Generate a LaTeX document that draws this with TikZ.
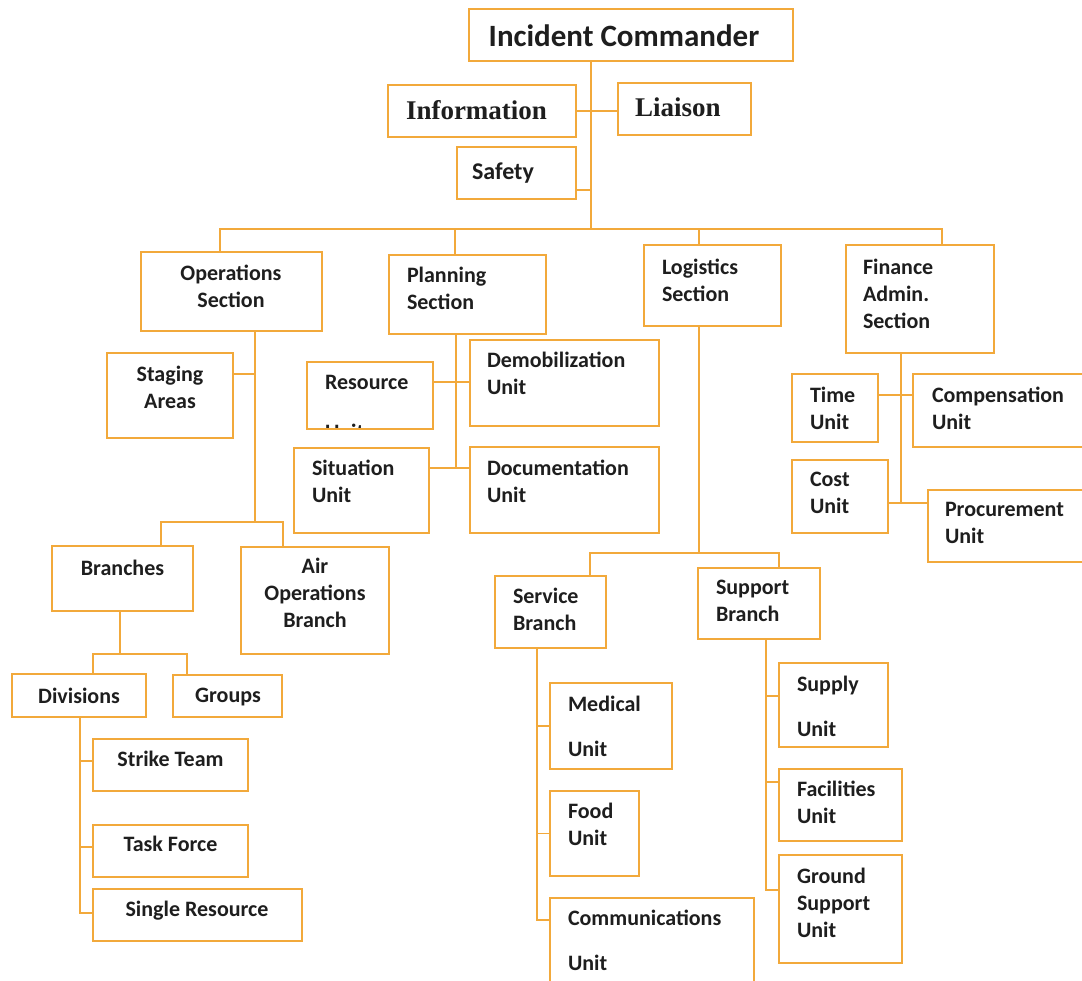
\documentclass[tikz,border=0pt]{standalone}
\usepackage{fontspec}
\setmainfont{Carlito}
\newfontfamily\timesfont{Liberation Serif}
\usetikzlibrary{calc}
\definecolor{orgline}{RGB}{242,169,59}
\definecolor{txtcol}{RGB}{30,30,30}
\tikzset{
  ubox/.style={draw=orgline, line width=2.4pt, fill=white, inner sep=0pt, outer sep=0pt},
  conn/.style={draw=orgline, line width=2.6pt},
  stub/.style={draw=orgline, line width=1.6pt},
  lbl/.style={inner sep=0pt, outer sep=0pt, text=txtcol, font=\bfseries\fontsize{22}{27}\selectfont},
  lft/.style={lbl, align=left, anchor=north west},
  ctr/.style={lbl, align=center, anchor=north},
}
% box: name, left, top, right, bottom (pixel-style coordinates, y downward)
\newcommand\ubx[5]{\node[ubox, minimum width={#4-#2}, minimum height={#5-#3}] (#1) at ({(#2+#4)/2},{(#3+#5)/2}) {};}
\begin{document}
\begin{tikzpicture}[x=1pt, y=-1pt]
\useasboundingbox (0,0) rectangle (1082,981);
\fill[white] (0,0) rectangle (1082,981);
\clip (0,0) rectangle (1082,981);

% ---- boxes ----
\ubx{ic}{469}{9}{793}{61}
\ubx{info}{388}{85}{576}{137}
\ubx{liaison}{618}{83}{751}{135}
\ubx{safety}{457}{147}{576}{199}
\ubx{ops}{141}{252}{322}{331}
\ubx{plan}{389}{255}{546}{334}
\ubx{log}{644}{245}{781}{326}
\ubx{fin}{846}{245}{994}{353}
\ubx{stag}{107}{353}{233}{438}
\ubx{res}{307}{362}{433}{429}
\ubx{demob}{470}{340}{659}{426}
\ubx{sit}{294}{448}{429}{533}
\ubx{doc}{470}{447}{659}{533}
\ubx{time}{792}{374}{878}{442}
\ubx{comp}{913}{374}{1100}{447}
\ubx{cost}{792}{460}{888}{533}
\ubx{proc}{928}{490}{1100}{562}
\ubx{br}{52}{546}{193}{611}
\ubx{air}{241}{547}{389}{654}
\ubx{div}{12}{674}{146}{717}
\ubx{grp}{173}{675}{282}{717}
\ubx{strike}{93}{739}{248}{791}
\ubx{task}{93}{825}{248}{877}
\ubx{single}{93}{889}{302}{941}
\ubx{svc}{495}{576}{606}{648}
\ubx{sup}{698}{568}{820}{639}
\ubx{med}{550}{683}{672}{769}
\ubx{food}{550}{791}{639}{876}
\ubx{comm}{550}{898}{754}{1000}
\ubx{supply}{779}{663}{888}{747}
\ubx{fac}{779}{769}{902}{841}
\ubx{ground}{779}{855}{902}{963}

% ---- command staff ----
\coordinate (trunk) at (591,229);
\draw[conn] (ic.south -| trunk) -- (trunk);
\draw[conn] (info.east) -- (info.east -| liaison.west);
\coordinate (safJ) at (591,190);
\draw[conn] (safJ -| safety.east) -- (safJ);

% ---- sections ----
\coordinate (barL) at (220,229);
\coordinate (barR) at (942,229);
\draw[conn] (barL |- ops.north) -- (barL) -- (barR) -- (barR |- fin.north);
\coordinate (plD) at (455,229);
\draw[conn] (plD) -- (plD |- plan.north);
\coordinate (lgD) at (699,229);
\draw[conn] (lgD) -- (lgD |- log.north);

% ---- operations ----
\coordinate (opJ) at (255,522);
\draw[conn] (opJ |- ops.south) -- (opJ);
\coordinate (stJ) at (255,374);
\draw[conn] (stJ -| stag.east) -- (stJ);
\coordinate (brL) at (161,522);
\coordinate (brR) at (283,522);
\draw[conn] (brL |- br.north) -- (brL) -- (brR) -- (brR |- air.north);
\coordinate (dvJ) at (120,654);
\draw[conn] (dvJ |- br.south) -- (dvJ);
\coordinate (dvL) at (93,654);
\coordinate (dvR) at (187,654);
\draw[conn] (dvL |- div.north) -- (dvL) -- (dvR) -- (dvR |- grp.north);
\coordinate (dsB) at (80,913);
\draw[conn] (dsB |- div.south) -- (dsB) -- (dsB -| single.west);
\coordinate (dsS) at (80,761);
\draw[stub] (dsS) -- (dsS -| strike.west);
\coordinate (dsT) at (80,847);
\draw[stub] (dsT) -- (dsT -| task.west);

% ---- planning ----
\coordinate (plJ1) at (456,382);
\coordinate (plJ2) at (456,468);
\draw[conn] (plJ2 |- plan.south) -- (plJ2);
\draw[conn] (plJ1 -| res.east) -- (plJ1 -| demob.west);
\draw[conn] (plJ2 -| sit.east) -- (plJ2 -| doc.west);

% ---- finance ----
\coordinate (fnJ1) at (901,395);
\coordinate (fnJ2) at (901,503);
\draw[conn] (fnJ2 |- fin.south) -- (fnJ2);
\draw[conn] (fnJ1 -| time.east) -- (fnJ1 -| comp.west);
\draw[conn] (fnJ2 -| cost.east) -- (fnJ2 -| proc.west);

% ---- logistics ----
\coordinate (lgJ) at (699,553);
\draw[conn] (lgJ |- log.south) -- (lgJ);
\coordinate (lgL) at (590,553);
\coordinate (lgR) at (779,553);
\draw[conn] (lgL |- svc.north) -- (lgL) -- (lgR) -- (lgR |- sup.north);
\coordinate (svB) at (537,920);
\draw[conn] (svB |- svc.south) -- (svB) -- (svB -| comm.west);
\draw[stub] (svB |- med.west) -- (med.west);
\draw[stub] (svB |- food.west) -- (food.west);
\coordinate (spB) at (766,890);
\draw[conn] (spB |- sup.south) -- (spB) -- (spB -| ground.west);
\coordinate (spS) at (766,696);
\draw[stub] (spS) -- (spS -| supply.west);
\coordinate (spF) at (766,782);
\draw[stub] (spF) -- (spF -| fac.west);

% ---- labels ----
\node[ctr, font=\bfseries\fontsize{31}{36}\selectfont] (t-ic) at (624,25) {Incident Commander};
\node[lft, font=\timesfont\bfseries\fontsize{27}{31}\selectfont] (t-info) at (406,100) {Information};
\node[lft, font=\timesfont\bfseries\fontsize{27}{31}\selectfont] (t-liaison) at (635,98) {Liaison};
\node[lft, font=\bfseries\fontsize{24}{28}\selectfont] (t-safety) at (472,163) {Safety};

\node[ctr] (t-ops) at (231,265) {Operations\\Section};
\node[lft] (t-plan) at (407,267) {Planning\\Section};
\node[lft] (t-log) at (662,259) {Logistics\\Section};
\node[lft] (t-fin) at (863,259) {Finance\\Admin.\\Section};

\node[ctr] (t-stag) at (170,366) {Staging\\Areas};
\node[lft] (t-res) at (325,375) {Resource};
\begin{scope}
  \clip ($(res.north west)+(1,1)$) rectangle ($(res.south east)+(-1,-1)$);
  \node[lft] (t-resu) at (325,424) {Unit};
\end{scope}
\node[lft] (t-demob) at (487,352) {Demobilization\\Unit};
\node[lft] (t-sit) at (312,460) {Situation\\Unit};
\node[lft] (t-doc) at (487,460) {Documentation\\Unit};

\node[lft] (t-time) at (810,387) {Time\\Unit};
\node[lft] (t-comp) at (932,387) {Compensation\\Unit};
\node[lft] (t-cost) at (810,472) {Cost\\Unit};
\node[lft] (t-proc) at (945,502) {Procurement\\Unit};

\node[ctr] (t-br) at (122.5,560) {Branches};
\node[ctr] (t-air) at (315,558) {Air\\Operations\\Branch};
\node[ctr] (t-div) at (79,688) {Divisions};
\node[ctr] (t-grp) at (228,688) {Groups};
\node[ctr] (t-strike) at (170.5,751) {Strike Team};
\node[ctr] (t-task) at (170.5,836) {Task Force};
\node[ctr] (t-single) at (197,901) {Single Resource};

\node[lft] (t-svc) at (513,588) {Service\\Branch};
\node[lft] (t-sup) at (716,580) {Support\\Branch};
\node[lft] (t-med) at (568,696) {Medical\\[18pt]Unit};
\node[lft] (t-food) at (568,803) {Food\\Unit};
\node[lft] (t-comm) at (568,910) {Communications\\[18pt]Unit};
\node[lft] (t-supply) at (797,676) {Supply\\[18pt]Unit};
\node[lft] (t-fac) at (797,781) {Facilities\\Unit};
\node[lft] (t-ground) at (797,868) {Ground\\Support\\Unit};
\end{tikzpicture}
\end{document}
